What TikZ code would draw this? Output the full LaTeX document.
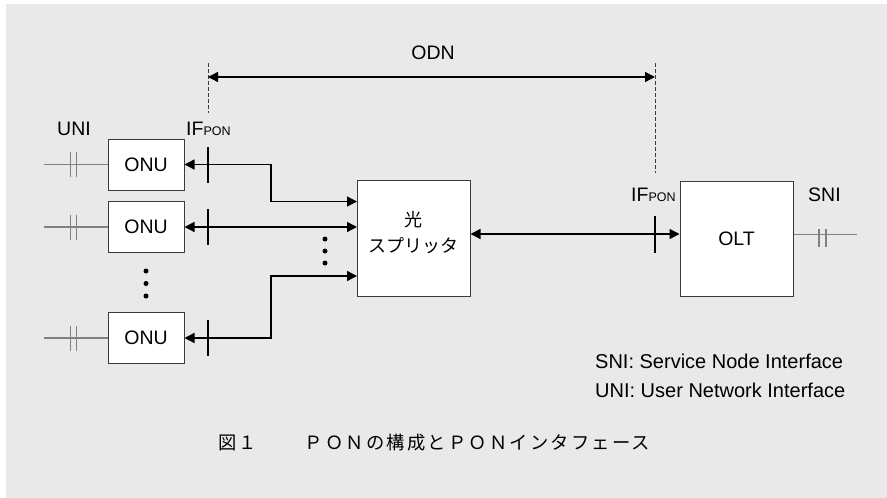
\documentclass[tikz,border=0pt]{standalone}
\usepackage{fontspec}
\setmainfont{Liberation Sans}
\newfontfamily\jp{Noto Sans CJK JP}
\usetikzlibrary{arrows.meta}
\definecolor{bg}{HTML}{E9E9E9}
\definecolor{bord}{HTML}{3A3A3A}
\definecolor{gl}{HTML}{808080}
\begin{document}
\begin{tikzpicture}[x=1pt,y=-1pt,
  box/.style={draw=bord, line width=1pt, fill=white, inner sep=0pt},
  lab/.style={font=\fontsize{19.5}{19.5}\selectfont, inner sep=0pt},
  bi/.style={line width=1.4pt, {Triangle[length=10pt,width=10pt]}-{Triangle[length=10pt,width=10pt]}},
  tickline/.style={line width=1.4pt},
  gline/.style={draw=gl, line width=1.2pt},
  dsh/.style={draw=bord, line width=1pt, dash pattern=on 3.5pt off 2.5pt},
  dotc/.style={fill=black, circle, inner sep=0pt, minimum size=5pt}]
\useasboundingbox (0,0) rectangle (887,498);
\fill[bg] (6,4) rectangle (887,498);

% ONU boxes
\node[box, lab, minimum width=76pt, minimum height=51pt] (onu1) at (146,164.5) {ONU};
\node[box, lab, minimum width=76pt, minimum height=51pt] (onu2) at (146,227) {ONU};
\node[box, lab, minimum width=76pt, minimum height=51pt] (onu3) at (146,338) {ONU};

% splitter and OLT
\node[box, minimum width=113pt, minimum height=116pt] (spl) at (413.5,238) {};
\node[font=\jp\fontsize{18}{26}\selectfont, align=center, inner sep=0pt] (spltxt) at (413.5,233) {光\\スプリッタ};
\node[box, lab, minimum width=113pt, minimum height=115pt] (olt) at (736.5,238.5) {OLT};

% labels
\node[lab, anchor=base west] (uni) at (57,135) {UNI};
\node[lab, anchor=base west] (if1) at (186,135) {IF{\fontsize{12.5}{12.5}\selectfont PON}};
\node[lab, anchor=base west] (if2) at (631,201.7) {IF{\fontsize{12.5}{12.5}\selectfont PON}};
\node[lab, anchor=base west] (sni) at (808,201.7) {SNI};
\node[lab, anchor=base] (odn) at (433,59) {ODN};

% ODN span
\coordinate (dl1) at (208,63); \coordinate (dl2) at (208,113);
\coordinate (dr1) at (655,63); \coordinate (dr2) at (655,173);
\coordinate (al) at (208,77); \coordinate (ar) at (655,77);
\draw[dsh] (dl1) -- (dl2);
\draw[dsh] (dr1) -- (dr2);
\draw[bi] (al) -- (ar);

% ONU - splitter connectors
\coordinate (s1) at (357,201.5);
\coordinate (s2) at (357,227);
\coordinate (s3) at (357,276);
\coordinate (k1) at (271,201.5);
\coordinate (k3) at (271,276);
\draw[bi] (onu1.east) -| (k1) -- (s1);
\draw[bi] (onu2.east) -- (s2);
\draw[bi] (onu3.east) -| (k3) -- (s3);

% splitter - OLT
\coordinate (y234) at (0,234);
\draw[bi] (spl.east |- y234) -- (olt.west |- y234);

% IF ticks
\draw[tickline] (208,147) -- (208,183);
\draw[tickline] (208,209) -- (208,245);
\draw[tickline] (208,320) -- (208,356);
\draw[tickline] (655,216) -- (655,253);

% UNI lines
\foreach \n in {onu1,onu2,onu3}{
  \draw[gline] (\n.west) -- ++(-64,0);
  \draw[gline] (\n.west) ++(-37,-12.5) -- ++(0,25);
  \draw[gline] (\n.west) ++(-31,-12.5) -- ++(0,25);
}
% SNI line
\coordinate (sn) at (793,234.7);
\draw[gline] (olt.east |- sn) -- ++(63,0);
\draw[gline] (819,229) -- (819,247);
\draw[gline] (826,229) -- (826,247);

% dots
\node[dotc] (d1) at (146,271) {};
\node[dotc] (d2) at (146,283.5) {};
\node[dotc] (d3) at (146,296) {};
\node[dotc] (d4) at (325,239) {};
\node[dotc] (d5) at (325,251) {};
\node[dotc] (d6) at (325,263) {};

% legend
\node[font=\fontsize{20}{20}\selectfont, inner sep=0pt, anchor=base west] (leg1) at (595,368) {SNI: Service Node Interface};
\node[font=\fontsize{20}{20}\selectfont, inner sep=0pt, anchor=base west] (leg2) at (595,397) {UNI: User Network Interface};

% caption
\node[font=\jp\fontsize{18.3}{18.3}\selectfont\addfontfeature{LetterSpace=12}, inner sep=0pt, anchor=west] (cap) at (218,443) {図１\hspace{48pt}ＰＯＮの構成とＰＯＮインタフェース};
\end{tikzpicture}
\end{document}
